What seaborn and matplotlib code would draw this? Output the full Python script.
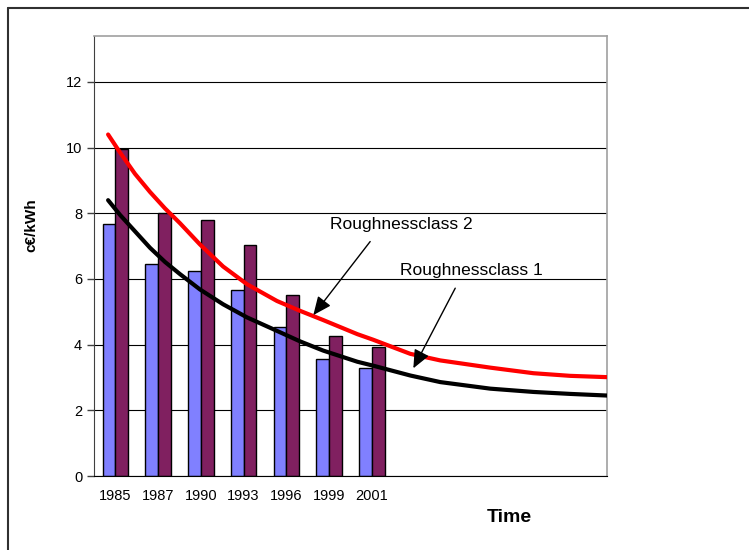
import pandas as pd
import matplotlib
matplotlib.use('Agg')
import matplotlib.pyplot as plt
from matplotlib.lines import Line2D
import numpy as np
import seaborn as sns

# bar data
years = ['1985', '1987', '1990', '1993', '1996', '1999', '2001']
blue_vals = [7.66, 6.46, 6.24, 5.66, 4.53, 3.57, 3.30]
purple_vals = [9.97, 8.01, 7.79, 7.04, 5.52, 4.27, 3.94]
extra_slots = ['e1', 'e2', 'e3', 'e4', 'e5']  # empty categories on the right

# curve data (x in category units)
curve_x = [-0.17, 0.11, 0.46, 0.81, 1.16, 1.51, 1.98, 2.52, 3.08, 3.78,
           4.32, 4.86, 5.66, 6.03, 6.90, 7.60, 8.77, 9.78, 10.64, 11.51]
class1_vals = [8.40, 7.95, 7.45, 6.95, 6.52, 6.15, 5.68, 5.23, 4.83, 4.42,
               4.10, 3.82, 3.48, 3.36, 3.06, 2.86, 2.66, 2.56, 2.50, 2.45]
class2_vals = [10.40, 9.85, 9.20, 8.65, 8.15, 7.70, 7.05, 6.38, 5.84, 5.33,
               5.03, 4.75, 4.32, 4.15, 3.72, 3.52, 3.30, 3.13, 3.05, 3.01]

sns.set_style('white')
plt.rcParams['font.family'] = ['Liberation Sans', 'DejaVu Sans']
plt.rcParams['text.color'] = 'black'
plt.rcParams['axes.labelcolor'] = 'black'
plt.rcParams['xtick.color'] = 'black'
plt.rcParams['ytick.color'] = 'black'

bars = pd.DataFrame({
    'year': years * 2,
    'value': blue_vals + purple_vals,
    'series': ['a'] * len(years) + ['b'] * len(years),
})
curves = pd.DataFrame({
    'x': curve_x * 2,
    'value': class1_vals + class2_vals,
    'cls': ['Roughnessclass 1'] * len(curve_x) + ['Roughnessclass 2'] * len(curve_x),
})

fig = plt.figure(figsize=(7.49, 5.5), dpi=100)
ax = fig.add_axes([94 / 749, 1 - 476 / 550, 513 / 749, 440 / 550])

order = years + extra_slots
sns.barplot(data=bars, x='year', y='value', hue='series', order=order,
            palette=['#8080FF', '#802060'], saturation=1, width=0.6,
            edgecolor='black', linewidth=1, legend=False, ax=ax, zorder=2)
sns.lineplot(data=curves, x='x', y='value', hue='cls',
             palette=['black', '#FF0000'], linewidth=3, legend=False,
             ax=ax, zorder=3)

ax.set_xlim(-0.5, len(order) - 0.5)
ax.set_ylim(0, 13.4)
ax.set_yticks(range(0, 13, 2))
ax.yaxis.grid(True, color='black', linewidth=0.8, zorder=0)
ax.set_axisbelow(True)

# ticks at category borders, labels at centres
ax.set_xticks(np.arange(-0.5, len(order), 1))
ax.set_xticklabels([])
ax.set_xticks(range(len(order)), minor=True)
ax.set_xticklabels(years + [''] * len(extra_slots), minor=True, fontsize=10.5)
ax.tick_params(axis='x', which='major', direction='inout', length=8, width=1, color='black')
ax.tick_params(axis='x', which='minor', length=0, pad=9)
ax.tick_params(axis='y', direction='out', length=5, width=1, color='#404040',
               labelsize=10.5, left=True)

ax.set_xlabel('')
ax.set_ylabel('c€/kWh', fontsize=11, fontweight='bold')
ax.yaxis.set_label_coords(-0.109, 0.57)
ax.text(0.809, -0.095, 'Time', transform=ax.transAxes, ha='center', va='center',
        fontsize=14, fontweight='bold')

for side in ['top', 'right']:
    ax.spines[side].set_color('#A0A0A0')
    ax.spines[side].set_linewidth(1.2)
ax.spines['left'].set_color('#404040')
ax.spines['bottom'].set_color('black')

# callout labels and arrows
ax.text(5.02, 7.65, 'Roughnessclass 2', ha='left', va='center', fontsize=12.5)
ax.text(6.66, 6.27, 'Roughnessclass 1', ha='left', va='center', fontsize=12.5)
arrow = dict(arrowstyle='-|>,head_length=0.8,head_width=0.35', color='black', lw=1,
             mutation_scale=14, shrinkA=0, shrinkB=0)
ax.annotate('', xy=(4.63, 4.90), xytext=(5.96, 7.14), arrowprops=arrow)
ax.annotate('', xy=(6.97, 3.28), xytext=(7.95, 5.72), arrowprops=arrow)

# outer frame, only left and top edges
fig.add_artist(Line2D([7.5 / 749, 7.5 / 749], [0, 1 - 8 / 550], color='#303030', lw=1.5))
fig.add_artist(Line2D([7.5 / 749, 1], [1 - 8 / 550, 1 - 8 / 550], color='#303030', lw=1.5))

plt.savefig('out.png', dpi=100)
